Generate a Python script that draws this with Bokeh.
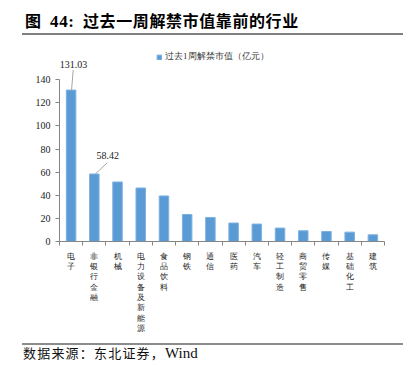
from bokeh.plotting import figure
from bokeh.layouts import column
from bokeh.models import ColumnDataSource, Range1d, FixedTicker, Div
from bokeh.embed import file_html
from bokeh.resources import INLINE

# ---- data ----
categories = ["电子", "非银行金融", "机械", "电力设备及新能源", "食品饮料", "钢铁", "通信",
              "医药", "汽车", "轻工制造", "商贸零售", "传媒", "基础化工", "建筑"]
values = [131.03, 58.42, 51.5, 46.3, 39.4, 23.4, 20.8, 16.0, 15.1, 11.6, 9.3, 8.7, 8.1, 5.8]
y_ticks = [0, 20, 40, 60, 80, 100, 120, 140]
series_name = "过去1周解禁市值（亿元）"
labeled_idx = [0, 1]
title_fig = "图"
title_num = "44:"
title_text = "过去一周解禁市值靠前的行业"
source_cn = "数据来源：东北证券，"
source_en = "Wind"

# ---- styling / layout ----
SERIF = "Liberation Serif"
BAR = "#5B9BD5"
TITLE_H, FIG_H, RULE_H, FOOT_H = 35, 306, 4, 20
n = len(categories)
idx = list(range(n))

title_html = ('%s&nbsp;&nbsp;<span style="font-family:\'Liberation Serif\';'
              'font-size:17px">%s</span>&nbsp;&nbsp;%s') % (title_fig, title_num, title_text)
title = Div(text=title_html, width=381, height=TITLE_H, margin=(0, 0, 0, 22),
            styles={"font-family": "Noto Sans CJK SC", "font-weight": "bold",
                    "font-size": "16px", "line-height": "18px",
                    "letter-spacing": "0.6px",
                    "border-bottom": "2px solid #7F7F7F", "color": "#000000",
                    "box-sizing": "border-box", "padding-left": "3px",
                    "padding-top": "11px"})

p = figure(width=381, height=FIG_H, output_backend="svg", toolbar_location=None,
           x_range=Range1d(-0.5, n - 0.5), y_range=Range1d(0, 167),
           min_border_left=37, min_border_right=19, min_border_top=13,
           min_border_bottom=100, margin=(0, 0, 0, 22))
p.outline_line_color = None
p.grid.visible = False

src = ColumnDataSource(dict(x=idx, top=values))
p.vbar(x="x", top="top", width=0.41, source=src, fill_color=BAR,
       line_color="#7FB2E0", legend_label=series_name)

# x axis: labels at category centres, tick marks at boundaries (minor ticks)
xa = p.xaxis[0]
xa.ticker = FixedTicker(ticks=idx, minor_ticks=[i - 0.5 for i in range(n + 1)])
xa.major_label_overrides = {i: "\n".join(c) for i, c in enumerate(categories)}
xa.major_label_text_font = SERIF
xa.major_label_text_font_size = "8px"
xa.major_label_text_line_height = 1.15
xa.major_label_text_color = "#222222"
xa.major_label_standoff = 6
xa.major_tick_out = 0
xa.major_tick_in = 0
xa.minor_tick_out = 4
xa.minor_tick_in = 0
xa.axis_line_color = "#868686"
xa.minor_tick_line_color = "#868686"

ya = p.yaxis[0]
ya.ticker = FixedTicker(ticks=y_ticks, minor_ticks=[])
ya.bounds = (0, 140)
ya.major_tick_out = 4
ya.major_tick_in = 0
ya.minor_tick_line_color = None
ya.axis_line_color = "#868686"
ya.major_tick_line_color = "#868686"
ya.major_label_text_font = SERIF
ya.major_label_text_font_size = "10px"
ya.major_label_text_color = "#222222"
ya.major_label_standoff = 5

# data labels with leader lines
line_dx0 = [0.02, 0.04]
line_dx1 = [0.09, 0.56]
line_dy1 = [17.3, 9.7]
lab_dx = [0.1, 0.58]
lab_dy = [22.0, 16.3]
lx0 = [labeled_idx[k] + line_dx0[k] for k in range(2)]
ly0 = [values[labeled_idx[k]] for k in range(2)]
lx1 = [labeled_idx[k] + line_dx1[k] for k in range(2)]
ly1 = [values[labeled_idx[k]] + line_dy1[k] for k in range(2)]
p.segment(x0=lx0, y0=ly0, x1=lx1, y1=ly1, line_color="#A6A6A6", line_width=1)
lsrc = ColumnDataSource(dict(
    x=[labeled_idx[k] + lab_dx[k] for k in range(2)],
    y=[values[labeled_idx[k]] + lab_dy[k] for k in range(2)],
    t=["%.2f" % values[i] for i in labeled_idx]))
p.text(x="x", y="y", text="t", source=lsrc, text_align="center",
       text_baseline="middle", text_font=SERIF, text_font_size="10px",
       text_color="#222222")

# legend
lg = p.legend[0]
lg.location = (97, 178)
lg.border_line_color = None
lg.background_fill_alpha = 0
lg.padding = 0
lg.margin = 0
lg.spacing = 0
lg.glyph_width = 6
lg.glyph_height = 6
lg.label_height = 10
lg.label_standoff = 3
lg.label_text_font = SERIF
lg.label_text_font_size = "9px"
lg.label_text_color = "#333333"

rule = Div(text="&nbsp;", width=381, height=RULE_H, margin=(0, 0, 0, 22),
           styles={"box-shadow": "inset 0 -2px 0 #8C8C8C",
                   "box-sizing": "border-box", "font-size": "1px",
                   "line-height": "1px", "overflow": "hidden"})

footer_html = ('%s<span style="font-family:\'Liberation Serif\';font-size:15px;'
               'letter-spacing:0">%s</span>') % (source_cn, source_en)
footer = Div(text=footer_html, width=381, height=FOOT_H, margin=(0, 0, 0, 22),
             styles={"font-family": "Noto Sans CJK SC", "font-size": "13px",
                     "line-height": "14px", "color": "#111111",
                     "letter-spacing": "1.2px", "padding-left": "1px",
                     "padding-top": "1px", "box-sizing": "border-box"})

layout = column(title, p, rule, footer, spacing=0, margin=(0, 0, 0, 0))
open("out.html", "w").write(file_html(layout, INLINE))
